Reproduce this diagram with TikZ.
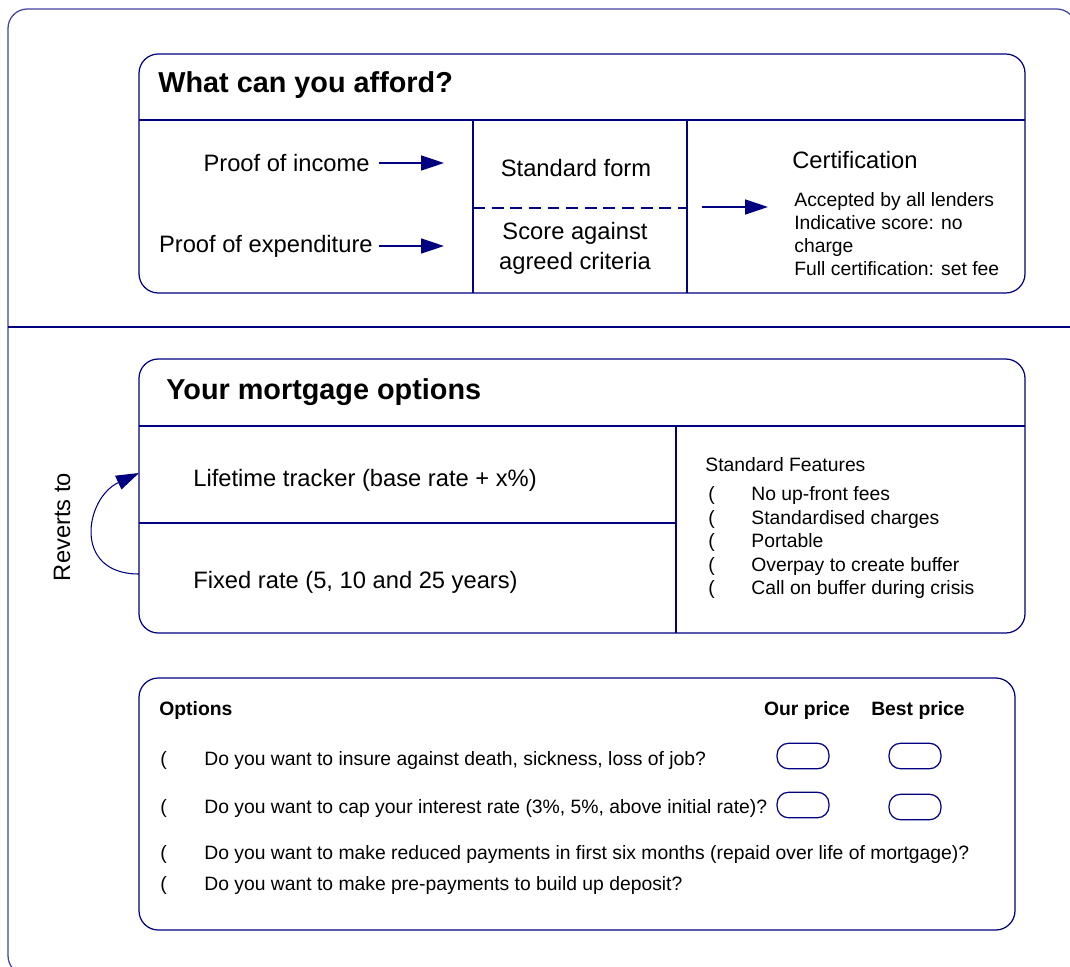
\documentclass[tikz,border=0pt]{standalone}
\usepackage{fontspec}
\setmainfont{Liberation Sans}
\usepackage{tikz}
\usetikzlibrary{arrows.meta, positioning}
\definecolor{navy}{RGB}{0,0,128}
\tikzstyle{arrow} = [navy, line width=0.8pt, -{Triangle[length=13pt, width=8.5pt]}]
\tikzstyle{panel} = [draw=navy, line width=0.7pt, rounded corners=11pt]
\tikzstyle{rule} = [navy, line width=0.8pt]
\tikzstyle{pricebox} = [draw=navy, line width=0.7pt, rounded corners=6.5pt, minimum width=29.5pt, minimum height=14.5pt]

\begin{document}
\begin{tikzpicture}[x=0.02cm, y=-0.02cm,
        every node/.style={
            inner sep=0pt,
            font=\fontsize{13.5}{17}\selectfont
        },
        heading/.style={
            font=\fontsize{16.4}{20}\selectfont\bfseries % box titles
        },
        small/.style={
            font=\fontsize{11}{13.2}\selectfont
        },
        smallbold/.style={
            font=\fontsize{11}{13.2}\selectfont\bfseries
        }
    ]
        \useasboundingbox (0,0) rectangle (1070,966);

        % Outer frame, cut by the page edge
        \begin{scope}
            \clip (0,0) rectangle (1070,966);
            \draw[panel, draw=navy!75] (8,9) rectangle (1076,975);
            \draw[rule] (8,327) -- (1070,327);
        \end{scope}

        % What can you afford box
        \draw[panel] (139,54) rectangle (1025,293);
        \draw[rule] (139,120) -- (1025,120);
        \draw[rule] (473,120) -- (473,293);
        \draw[rule] (687,120) -- (687,293);
        \draw[rule, line width=1.2pt, dash pattern=on 6.8pt off 3.8pt] (473,208) -- (687,208);
        \node[heading, anchor=west] (afford) at (158,85) {What can you afford?};

        % Proofs
        \node[anchor=east] (income) at (370,163) {Proof of income};
        \node[anchor=east] (expense) at (373,246) {Proof of expenditure};
        \coordinate (incomeTip) at (444,163);
        \coordinate (expenseTip) at (444,246);
        \draw[arrow, shorten <=5pt] (income) -- (incomeTip);
        \draw[arrow, shorten <=3.5pt] (expense) -- (expenseTip);

        % Middle column
        \node (stdform) at (576,168) {Standard form};
        \node[align=center] (score) at (575,248) {Score against\\agreed criteria};

        % Certification
        \node[anchor=west] (cert) at (792,160) {Certification};
        \node[small, anchor=west, align=left] (certlist) at (794,234) {Accepted by all lenders\\Indicative score: no\\charge\\Full certification: set fee};
        \coordinate (dashEnd) at (687,207);
        \coordinate (certTip) at (768,207);
        \draw[arrow, shorten <=8.5pt] (dashEnd) -- (certTip);

        % Your mortgage options box
        \draw[panel] (139,359) rectangle (1025,633);
        \draw[rule] (139,426) -- (1025,426);
        \draw[rule] (676,426) -- (676,633);
        \draw[rule] (139,523) -- (676,523);
        \node[heading, anchor=west] (mortgage) at (166,392) {Your mortgage options};
        \node[anchor=west] (tracker) at (193,480) {Lifetime tracker (base rate + x\%)};
        \node[anchor=west] (fixed) at (193,582) {Fixed rate (5, 10 and 25 years)};

        % Reverts to loop
        \coordinate (fixedIn) at (139,574);
        \coordinate (trackerIn) at (139,473);
        \draw[arrow, line width=0.6pt] (fixedIn) .. controls (72,574) and (85,498) .. (trackerIn);
        \node[rotate=90] (reverts) at (62,527) {Reverts to};

        % Standard features
        \node[small, anchor=base west] (features) at (705,471) {Standard Features};
        \node[small, anchor=base west] (mark1) at (708,500) {(};
        \node[small, anchor=base west] (feat1) at (751,500) {No up-front fees};
        \node[small, anchor=base west] (mark2) at (708,524) {(};
        \node[small, anchor=base west] (feat2) at (751,524) {Standardised charges};
        \node[small, anchor=base west] (mark3) at (708,547) {(};
        \node[small, anchor=base west] (feat3) at (751,547) {Portable};
        \node[small, anchor=base west] (mark4) at (708,571) {(};
        \node[small, anchor=base west] (feat4) at (751,571) {Overpay to create buffer};
        \node[small, anchor=base west] (mark5) at (708,594) {(};
        \node[small, anchor=base west] (feat5) at (751,594) {Call on buffer during crisis};

        % Options box
        \draw[panel] (139,678) rectangle (1015,930);
        \node[smallbold, anchor=base west] (options) at (159,715) {Options};
        \node[smallbold, anchor=base] (ourprice) at (807,715) {Our price};
        \node[smallbold, anchor=base] (bestprice) at (918,715) {Best price};

        % Option questions
        \node[small, anchor=base west] (q1mark) at (160,765) {(};
        \node[small, anchor=base west] (q1) at (204,765) {Do you want to insure against death, sickness, loss of job?};
        \node[small, anchor=base west] (q2mark) at (160,813) {(};
        \node[small, anchor=base west] (q2) at (204,813) {Do you want to cap your interest rate (3\%, 5\%, above initial rate)?};
        \node[small, anchor=base west] (q3mark) at (160,859) {(};
        \node[small, anchor=base west] (q3) at (204,859) {Do you want to make reduced payments in first six months (repaid over life of mortgage)?};
        \node[small, anchor=base west] (q4mark) at (160,890) {(};
        \node[small, anchor=base west] (q4) at (204,890) {Do you want to make pre-payments to build up deposit?};

        % Price boxes
        \node[pricebox] (our1) at (803,756) {};
        \node[pricebox] (best1) at (915,756) {};
        \node[pricebox] (our2) at (803,805) {};
        \node[pricebox] (best2) at (915,807) {};
    \end{tikzpicture}
\end{document}
